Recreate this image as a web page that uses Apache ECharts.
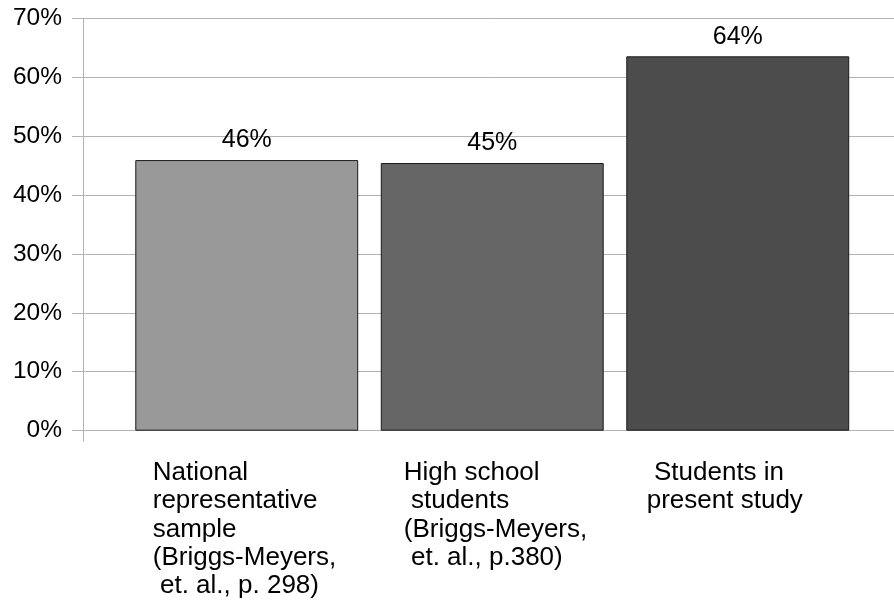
<!DOCTYPE html>
<html>
<head>
<meta charset="utf-8">
<script src="https://cdn.jsdelivr.net/npm/echarts@6/dist/echarts.min.js"></script>
<style>
  html, body { margin: 0; padding: 0; background: #fff; }
  #chart { width: 894px; height: 610px; }
</style>
</head>
<body>
<div id="chart"></div>
<script>
// category labels (line breaks as in the original)
const categories = [
    "National\nrepresentative\nsample\n(Briggs-Meyers,\n et. al., p. 298)",
    "High school\n students\n(Briggs-Meyers,\n et. al., p.380)",
    " Students in\npresent study"
];
const values = [45.9, 45.4, 63.5]; // percent
const barColors = ['#999999', '#666666', '#4c4c4c'];
const yTicks = [0, 10, 20, 30, 40, 50, 60, 70];

const chart = echarts.init(document.getElementById('chart'));
const font = 'Liberation Sans, Arial, sans-serif';

// fixed-width label blocks so the left edges line up like the original
const labelWidths = [188, 177, 182];
const rich = {};
labelWidths.forEach((w, i) => {
    rich['w' + i] = { width: w, align: 'left', fontSize: 26, lineHeight: 28.3, fontFamily: font, color: '#000' };
});

const option = {
    animation: false,
    grid: [
        { left: 83, right: 0, top: 18, bottom: 179.3 },    // gridlines + y axis
        { left: 124, right: 33.5, top: 18, bottom: 179.3 } // bars
    ],
    xAxis: [
        {
            gridIndex: 0, type: 'category', data: [''],
            axisLine: { show: false },
            axisTick: { show: true, length: 11, lineStyle: { color: '#b3b3b3' } },
            axisLabel: { show: false }
        },
        {
            gridIndex: 1, type: 'category', data: categories,
            axisLine: { show: false },
            axisTick: { show: false },
            axisLabel: {
                interval: 0,
                margin: 28,
                formatter: function (value, idx) {
                    return '{w' + idx + '|' + value + '}';
                },
                rich: rich
            }
        }
    ],
    yAxis: [
        {
            gridIndex: 0, type: 'value', min: 0, max: 70, interval: 10,
            axisLine: { show: true, lineStyle: { color: '#b3b3b3' } },
            axisTick: { show: true, length: 11, lineStyle: { color: '#b3b3b3' } },
            splitLine: { show: true, lineStyle: { color: '#b3b3b3' } },
            axisLabel: {
                margin: 21, fontSize: 24.5, fontFamily: font, color: '#000',
                formatter: v => yTicks.includes(v) ? v + '%' : ''
            }
        },
        {
            gridIndex: 1, type: 'value', min: 0, max: 70, show: false
        }
    ],
    series: [{
        type: 'bar',
        xAxisIndex: 1,
        yAxisIndex: 1,
        barCategoryGap: '9.2%',
        data: values.map((v, i) => ({
            value: v,
            itemStyle: { color: barColors[i], borderColor: '#1a1a1a', borderWidth: 1 }
        })),
        label: {
            show: true,
            position: 'top',
            distance: 7,
            fontSize: 25,
            fontFamily: font,
            color: '#000',
            formatter: p => Math.round(p.value) + '%'
        }
    }]
};

chart.setOption(option);
</script>
</body>
</html>
